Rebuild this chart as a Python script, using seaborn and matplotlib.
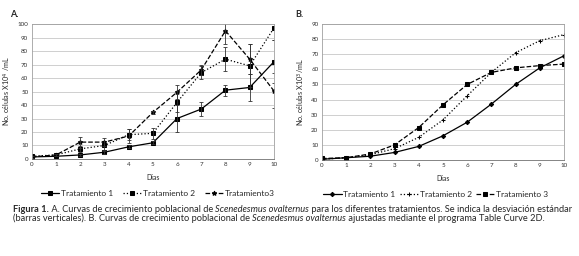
import numpy as np
import pandas as pd
import seaborn as sns
import matplotlib
matplotlib.use("Agg")
import matplotlib.pyplot as plt
from matplotlib.text import Annotation

sns.set_style("white")
plt.rcParams['font.family'] = ['Lato', 'DejaVu Sans']

#data panel A (measured, with std dev)
dias = [0, 1, 2, 3, 4, 5, 6, 7, 8, 9, 10]
a_t1 = [1.5, 2, 3, 5, 9, 12, 30, 37, 51, 53, 72]
a_t1_err = [0.5, 0.5, 0.5, 1, 1, 1, 10, 5, 4, 10, 16]
a_t2 = [2, 3, 7.5, 10, 18, 19, 42, 64, 74, 69, 97]
a_t2_err = [0.5, 0.5, 2, 3, 4, 4, 7, 5, 9, 16, 9]
a_t3 = [1.5, 3, 12.5, 12.5, 17, 34.5, 49.5, 66, 95, 74, 50.5]
a_t3_err = [0.5, 0.5, 4, 3, 5, 1, 5, 4, 10, 11, 13]

#data panel B (Table Curve 2D fit)
b_t1 = [0.5, 1.5, 2.5, 5, 9, 16, 25, 37, 50, 61, 69]
b_t2 = [0.5, 1.5, 3.5, 7.5, 15, 26.5, 42.5, 58, 71, 79, 83]
b_t3 = [1, 1.5, 4, 10, 21.5, 36.5, 50, 58, 61, 62.5, 63.5]

fig = plt.figure(figsize=(5.79, 2.56), dpi=100)
axA = fig.add_axes([0.055, 0.379, 0.418, 0.527])
axB = fig.add_axes([0.556, 0.375, 0.418, 0.531])


def style_axes(ax, ymax, ylabel):
    ax.set_xlim(0, 10)
    ax.set_ylim(0, ymax)
    ax.set_xticks(range(0, 11))
    ax.set_yticks(range(0, ymax + 1, 10))
    ax.yaxis.grid(True, color='#c8c8c8', linewidth=0.6)
    ax.set_axisbelow(True)
    for s in ax.spines.values():
        s.set_color('#a0a0a0')
        s.set_linewidth(0.6)
    ax.spines['bottom'].set_color('#707070')
    ax.tick_params(labelsize=4.5, length=0, pad=2.5, colors='#333333')
    ax.set_xlabel("Dias", fontsize=5, labelpad=5)
    ax.set_ylabel(ylabel, fontsize=5.2, labelpad=3)


#panel A
specs_a = [
    (a_t1, a_t1_err, "Tratamiento 1", '-', 's', 2.5),
    (a_t2, a_t2_err, "Tratamiento 2", ':', 's', 3.5),
    (a_t3, a_t3_err, "Tratamiento3", '--', '*', 3.5),
]
for y, err, lab, ls, mk, ms in specs_a:
    df = pd.DataFrame({'dia': dias, 'val': y})
    sns.lineplot(data=df, x='dia', y='val', ax=axA, color='black', linestyle=ls,
                 marker=mk, markersize=ms, markeredgecolor='black', linewidth=0.9, label=lab)
    axA.errorbar(dias, y, yerr=err, fmt='none', ecolor='#333333', elinewidth=0.6,
                 capsize=1.2, capthick=0.6, clip_on=True)
style_axes(axA, 100, "No. células X10$^4$ /mL")
axA.legend(loc='center', bbox_to_anchor=(0.52, -0.255), ncol=3, frameon=False,
           fontsize=6, handlelength=2.2, columnspacing=1.2, handletextpad=0.2)
fig.text(0.018, 0.935, "A.", fontsize=6.5, fontweight='bold')

#panel B
specs_b = [
    (b_t1, "Tratamiento 1", '-', 'D', 2.2),
    (b_t2, "Tratamiento 2", ':', '+', 3),
    (b_t3, "Tratamiento 3", '--', 's', 3),
]
for y, lab, ls, mk, ms in specs_b:
    df = pd.DataFrame({'dia': dias, 'val': y})
    sns.lineplot(data=df, x='dia', y='val', ax=axB, color='black', linestyle=ls,
                 marker=mk, markersize=ms, markeredgecolor='black', linewidth=0.9, label=lab)
style_axes(axB, 90, "No. células X10$^3$/mL")
axB.legend(loc='center', bbox_to_anchor=(0.47, -0.255), ncol=3, frameon=False,
           fontsize=6, handlelength=2.2, columnspacing=0.5, handletextpad=0.2)
fig.text(0.51, 0.935, "B.", fontsize=6.5, fontweight='bold')


#caption, chained pieces so bold/italic parts share the font
def chain(y, pieces, fs=6.7):
    prev = fig.text(0.022, y, pieces[0][0], fontsize=fs, fontweight=pieces[0][1],
                    fontstyle=pieces[0][2], va='baseline')
    for txt, w, st in pieces[1:]:
        prev = fig.add_artist(Annotation(txt, xy=(1, 0), xycoords=prev, va='bottom', ha='left',
                                         fontsize=fs, fontweight=w, fontstyle=st))


chain(0.172, [("Figura 1.", 'bold', 'normal'),
              (" A. Curvas de crecimiento poblacional de ", 'normal', 'normal'),
              ("Scenedesmus ovalternus", 'normal', 'italic'),
              (" para los diferentes tratamientos. Se indica la desviación estándar", 'normal', 'normal')])
chain(0.137, [("(barras verticales). B. Curvas de crecimiento poblacional de ", 'normal', 'normal'),
              ("Scenedesmus ovalternus", 'normal', 'italic'),
              (" ajustadas mediante el programa Table Curve 2D.", 'normal', 'normal')])

fig.savefig("out.png", dpi=100)
